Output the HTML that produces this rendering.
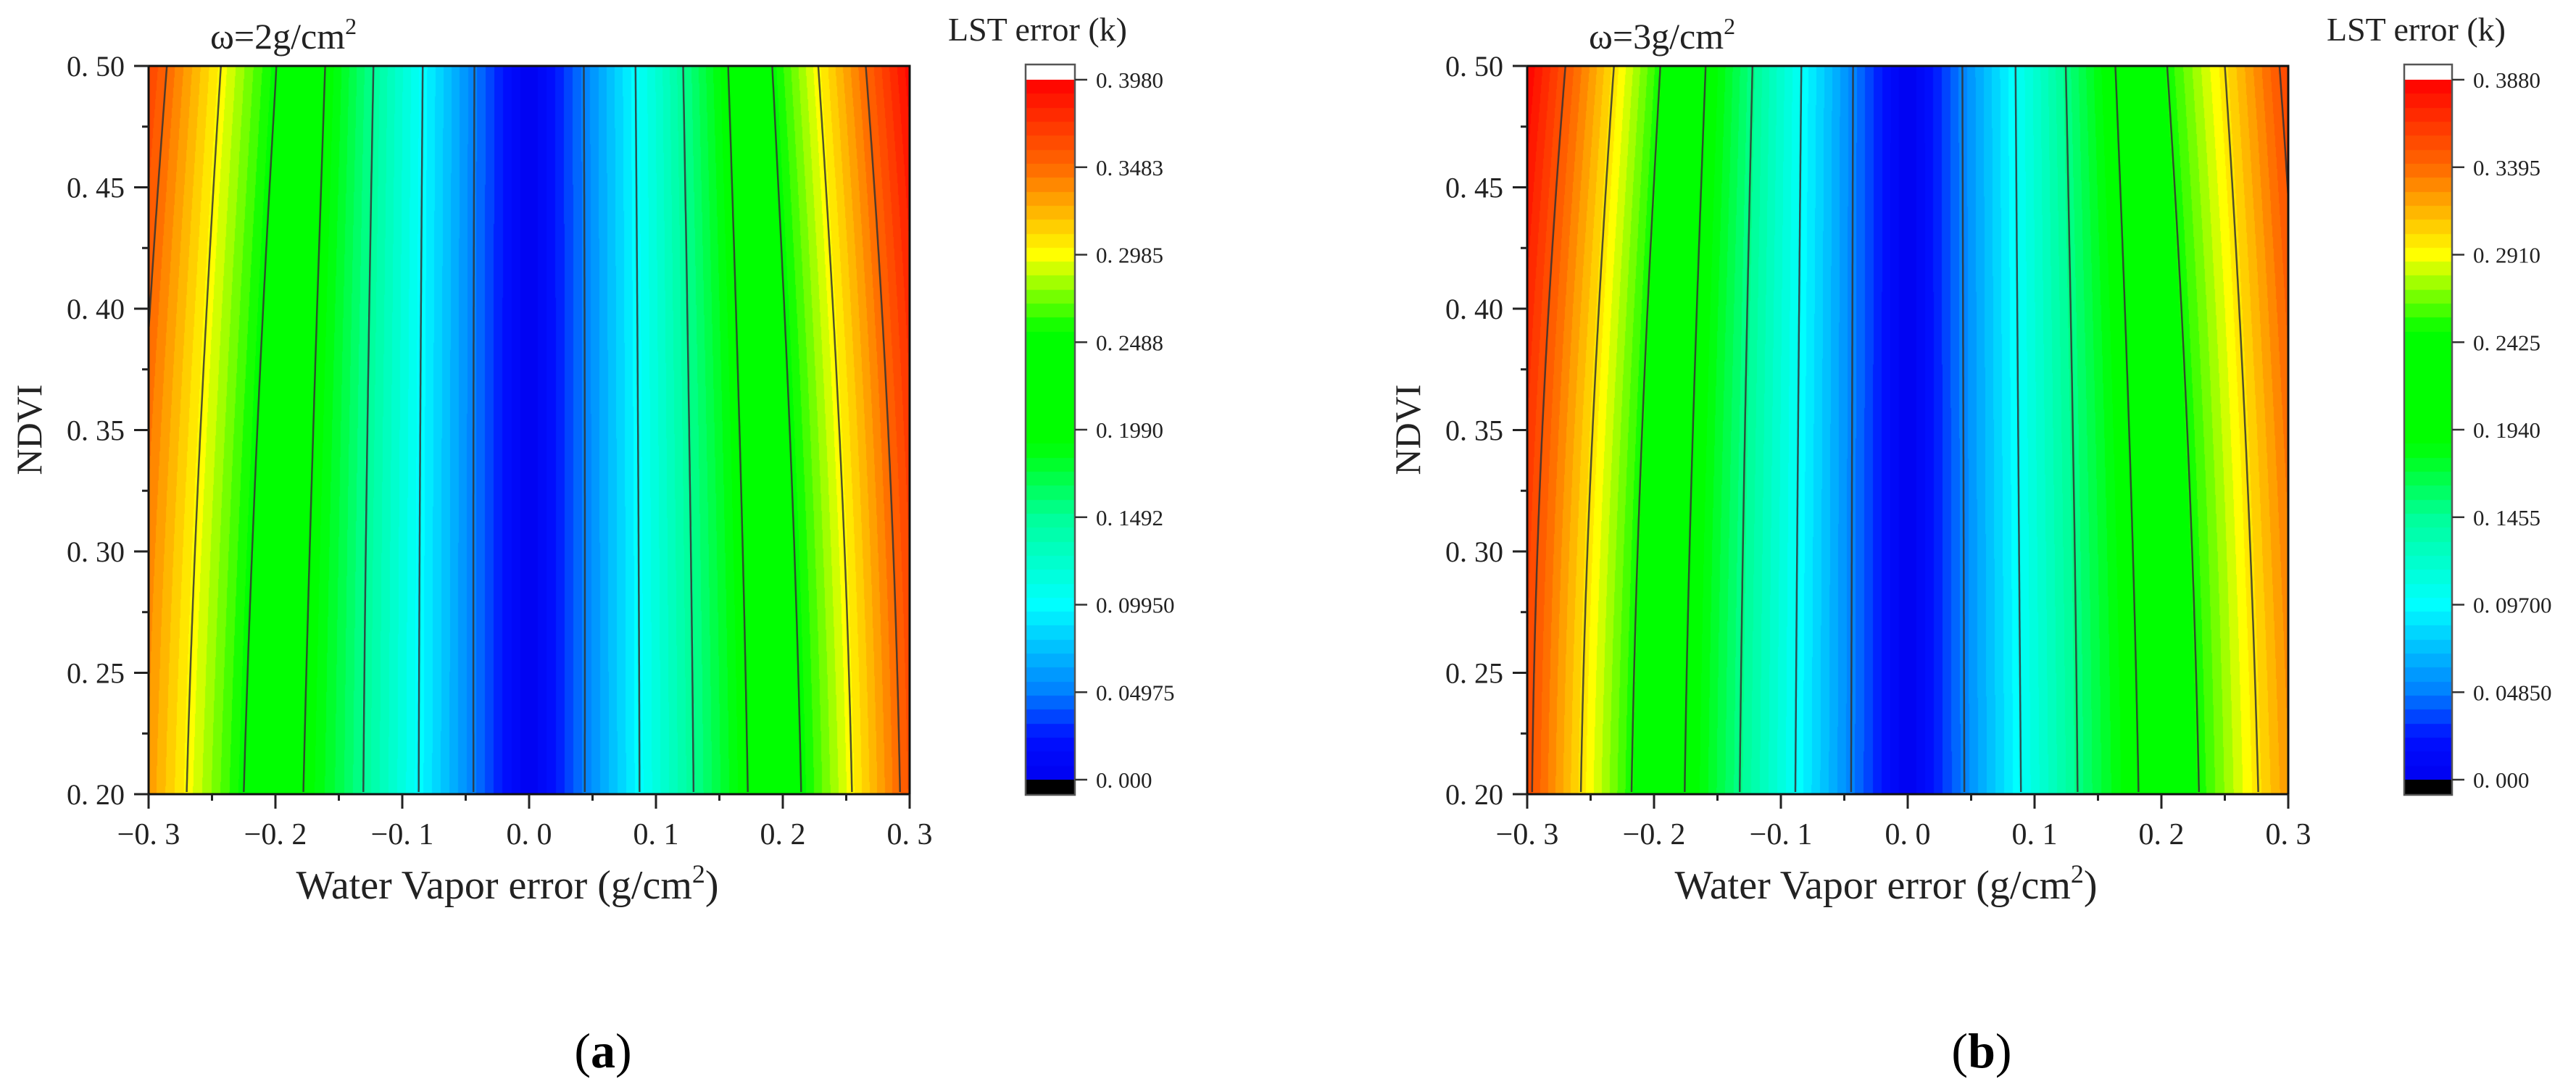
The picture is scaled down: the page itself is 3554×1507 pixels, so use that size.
<!DOCTYPE html>
<html><head><meta charset="utf-8">
<style>
html,body{margin:0;padding:0;background:#fff;}
#wrap{position:relative;width:3554px;height:1507px;overflow:hidden;background:#fff;}
canvas{position:absolute;}
svg{position:absolute;left:0;top:0;}
text{font-family:"Liberation Serif",serif;fill:#222;}
</style></head>
<body>
<div id="wrap">
<canvas id="heatA" width="1050" height="1005" style="left:205px;top:91px"></canvas>
<canvas id="heatB" width="1050" height="1005" style="left:2107px;top:91px"></canvas>
<canvas id="cbarA" width="68" height="966" style="left:1415px;top:110px"></canvas>
<canvas id="cbarB" width="66" height="966" style="left:3317px;top:110px"></canvas>
<svg id="ov" width="3554" height="1507" xmlns="http://www.w3.org/2000/svg"></svg>
</div>
<script>
// ---- data ----
const wvErrors = [-0.3,-0.25,-0.2,-0.15,-0.1,-0.05,0,0.05,0.1,0.15,0.2,0.25,0.3];
const ndviRows = [0.2,0.35,0.5];
// panel (a) omega = 2 g/cm2
const lstA_ndvi020 = [0.333,0.278,0.222,0.172,0.115,0.057,0.0,0.057,0.115,0.174,0.232,0.294,0.360];
const lstA_ndvi035 = [0.345,0.290,0.234,0.177,0.117,0.057,0.0,0.057,0.117,0.180,0.243,0.307,0.372];
const lstA_ndvi050 = [0.367,0.308,0.251,0.186,0.120,0.058,0.0,0.058,0.120,0.190,0.262,0.330,0.395];
// panel (b) omega = 3 g/cm2
const lstB_ndvi020 = [0.355,0.290,0.228,0.170,0.113,0.056,0.0,0.056,0.112,0.168,0.218,0.272,0.325];
const lstB_ndvi035 = [0.365,0.302,0.238,0.176,0.116,0.057,0.0,0.057,0.115,0.173,0.228,0.282,0.338];
const lstB_ndvi050 = [0.388,0.325,0.257,0.187,0.120,0.058,0.0,0.058,0.118,0.183,0.245,0.300,0.358];
const contourLevels = [0.05,0.10,0.15,0.20,0.25,0.30,0.35];
const cbarMaxA = 0.398, cbarMaxB = 0.388;
const cbarLabelsA = ["0. 3980","0. 3483","0. 2985","0. 2488","0. 1990","0. 1492","0. 09950","0. 04975","0. 000"];
const cbarLabelsB = ["0. 3880","0. 3395","0. 2910","0. 2425","0. 1940","0. 1455","0. 09700","0. 04850","0. 000"];
const xTickVals = [-0.3,-0.2,-0.1,0,0.1,0.2,0.3];
const xTickLabels = ["\u22120. 3","\u22120. 2","\u22120. 1","0. 0","0. 1","0. 2","0. 3"];
const yTickVals = [0.5,0.45,0.4,0.35,0.3,0.25,0.2];
const yTickLabels = ["0. 50","0. 45","0. 40","0. 35","0. 30","0. 25","0. 20"];

// ---- colormap ----
const stops=[[0,[0,0,240]],[0.06,[0,16,255]],[0.125,[0,128,255]],[0.25,[0,255,255]],[0.375,[0,255,153]],[0.48,[0,255,0]],[0.64,[0,255,0]],[0.75,[255,255,0]],[0.875,[255,106,0]],[1,[255,0,0]]];
function cmap(f){f=Math.max(0,Math.min(1,f));for(let i=1;i<stops.length;i++){if(f<=stops[i][0]){const a=stops[i-1],b=stops[i];const t=(f-a[0])/(b[0]-a[0]);return [0,1,2].map(k=>Math.round(a[1][k]+(b[1][k]-a[1][k])*t));}}return stops[stops.length-1][1];}
const NB=50;
function bandColor(v,max){let idx=Math.floor(v/max*NB);if(idx>=NB)idx=NB-1;if(idx<0)idx=0;return cmap((idx+0.5)/NB);}

// ---- field ----
function rowAt(row,x){const n=wvErrors.length;if(x<=wvErrors[0])return row[0];if(x>=wvErrors[n-1])return row[n-1];for(let i=1;i<n;i++){if(x<=wvErrors[i]){const t=(x-wvErrors[i-1])/(wvErrors[i]-wvErrors[i-1]);return row[i-1]+(row[i]-row[i-1])*t;}}}
function field(rows,x,y){const [y0,y1,y2]=ndviRows;const L0=(y-y1)*(y-y2)/((y0-y1)*(y0-y2)),L1=(y-y0)*(y-y2)/((y1-y0)*(y1-y2)),L2=(y-y0)*(y-y1)/((y2-y0)*(y2-y1));return L0*rowAt(rows[0],x)+L1*rowAt(rows[1],x)+L2*rowAt(rows[2],x);}

const PW=1050,PH=1005;
function xScale(v){return (v+0.3)/0.6*PW;}
function yScale(v){return (0.5-v)/0.3*PH;}
function xInv(px){return px/PW*0.6-0.3;}
function yInv(py){return 0.5-py/PH*0.3;}

const NS="http://www.w3.org/2000/svg";
const ov=document.getElementById('ov');
function el(tag,attrs,parent){const e=document.createElementNS(NS,tag);for(const k in attrs)e.setAttribute(k,attrs[k]);(parent||ov).appendChild(e);return e;}

function drawPanel(canvasId,rows,ox,oy,key){
  const c=document.getElementById(canvasId),ctx=c.getContext('2d');
  const img=ctx.createImageData(PW,PH);
  const max=key==='a'?cbarMaxA:cbarMaxB;
  for(let j=0;j<PH;j+=2){const y=yInv(j+1);for(let i=0;i<PW;i++){const v=field(rows,xInv(i+0.5),y);const col=bandColor(v,max);for(let dj=0;dj<2&&j+dj<PH;dj++){const p=((j+dj)*PW+i)*4;img.data[p]=col[0];img.data[p+1]=col[1];img.data[p+2]=col[2];img.data[p+3]=255;}}}
  ctx.putImageData(img,0,0);
  const g=el('g',{transform:`translate(${ox},${oy})`});
  
  
  contourLevels.forEach(lv=>{
    const segs={l:[],r:[]};
    for(let j=0;j<=PH;j+=6){const y=yInv(j);let prev=field(rows,xInv(0),y);for(let i=1;i<=PW;i++){const v=field(rows,xInv(i),y);if((prev-lv)*(v-lv)<=0&&prev!==v){const xp=i-1+(lv-prev)/(v-prev);(xp<PW/2?segs.l:segs.r).push([xp,j]);}prev=v;}}
    ['l','r'].forEach(s=>{if(segs[s].length<2)return;const d='M'+segs[s].map(p=>p[0].toFixed(1)+','+p[1]).join('L');
      const p=el('path',{d:d,fill:'none',stroke:'#333','stroke-opacity':'0.85','stroke-width':'2.5'},g);
      
      });
  });
  const fr=el('rect',{x:ox,y:oy,width:PW,height:PH,fill:'none',stroke:'#111','stroke-width':'3'});
  
  
  xTickVals.forEach((v,i)=>{const x=ox+xScale(v);
    const t=el('line',{x1:x,y1:oy+PH,x2:x,y2:oy+PH+20,stroke:'#222','stroke-width':'3'});
    
    const lb=el('text',{x:x,y:oy+PH+69,'font-size':'42','text-anchor':'middle'});lb.textContent=xTickLabels[i];
    
    if(i<xTickVals.length-1){const xm=ox+xScale(v+0.05);const m=el('line',{x1:xm,y1:oy+PH,x2:xm,y2:oy+PH+9,stroke:'#222','stroke-width':'3'});}
  });
  yTickVals.forEach((v,i)=>{const y=oy+yScale(v);
    const t=el('line',{x1:ox-20,y1:y,x2:ox,y2:y,stroke:'#222','stroke-width':'3'});
    
    const lb=el('text',{x:ox-33,y:y+14,'font-size':'40','text-anchor':'end'});lb.textContent=yTickLabels[i];
    
    if(i<yTickVals.length-1){const ym=oy+yScale(v-0.025);const m=el('line',{x1:ox-9,y1:ym,x2:ox,y2:ym,stroke:'#222','stroke-width':'3'});}
  });
}

function drawCbar(canvasId,max,labels,bx,key){
  const c=document.getElementById(canvasId),ctx=c.getContext('2d');const W=c.width,H=c.height;
  for(let j=0;j<H;j++){const v=(1-(j+0.5)/H)*max;const col=bandColor(v,max);ctx.fillStyle=`rgb(${col[0]},${col[1]},${col[2]})`;ctx.fillRect(0,j,W,1);}
  const blk=el('rect',{x:bx,y:1076,width:W,height:21,fill:'#000'});
  
  const br=el('rect',{x:bx,y:89,width:W,height:1008,fill:'none',stroke:'#555','stroke-width':'2.5'});
  
  labels.forEach((s,i)=>{const y=110+i*(966/8);
    const t=el('line',{x1:bx+W,y1:y,x2:bx+W+17,y2:y,stroke:'#333','stroke-width':'2.5'});
    
    const lb=el('text',{x:bx+W+29,y:y+11,'font-size':'31'});lb.textContent=s;
    });
}

drawPanel('heatA',[lstA_ndvi020,lstA_ndvi035,lstA_ndvi050],205,91,'a');
drawPanel('heatB',[lstB_ndvi020,lstB_ndvi035,lstB_ndvi050],2107,91,'b');
drawCbar('cbarA',cbarMaxA,cbarLabelsA,1415,'a');
drawCbar('cbarB',cbarMaxB,cbarLabelsB,3317,'b');

function txt(name,attrs,html){const t=el('text',attrs);t.innerHTML=html;return t;}
[[0,'2','a'],[1902,'3','b']].forEach(([dx,w,k])=>{
  txt('panel-title-'+k,{x:290+dx,y:67,'font-size':'50'},'ω=<tspan>'+w+'</tspan>g/cm<tspan dy="-20" font-size="32">2</tspan>');
  txt('colorbar-title-'+k,{x:1308+dx,y:56,'font-size':'46'},'LST error (k)');
  txt('x-axis-title-'+k,{x:700+dx,y:1240,'font-size':'56','text-anchor':'middle'},'Water Vapor error (g/cm<tspan dy="-22" font-size="36">2</tspan><tspan dy="22">)</tspan>');
  txt('y-axis-title-'+k,{transform:`translate(${57+dx},593) rotate(-90)`,'font-size':'50','text-anchor':'middle'},'NDVI');
  txt('subfigure-label-'+k,{x:832+dx,y:1473,'font-size':'68','text-anchor':'middle',style:'fill:#000'},'(<tspan font-weight="bold">'+k+'</tspan>)');
});
</script>
</body></html>
